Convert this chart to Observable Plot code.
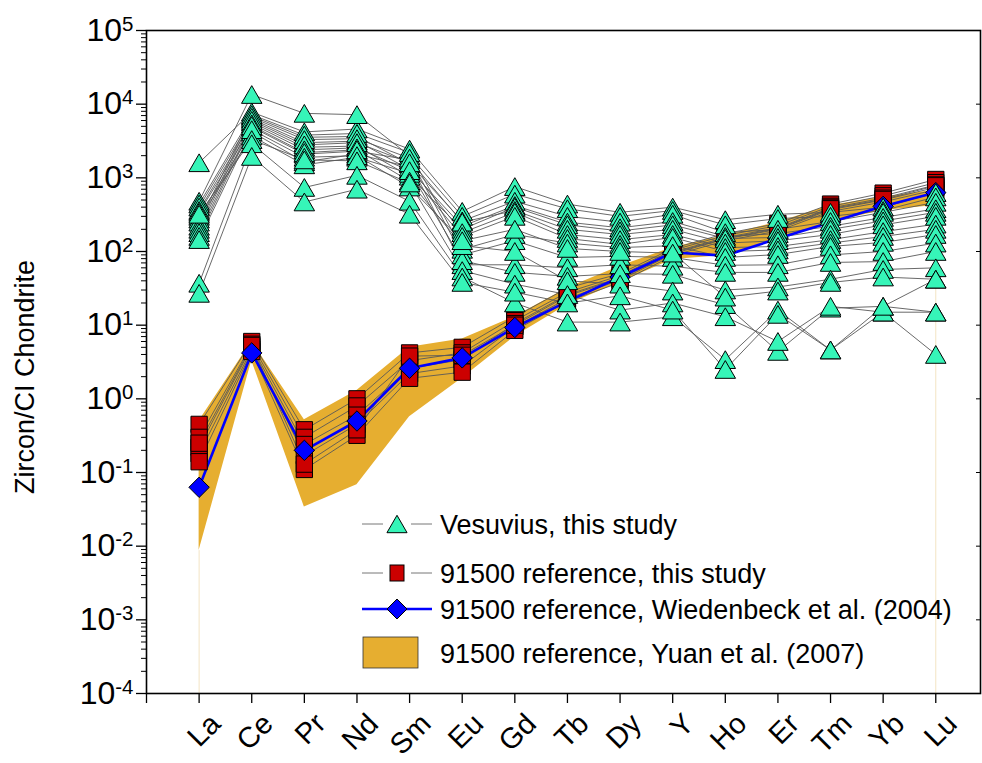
<!DOCTYPE html>
<html><head><meta charset="utf-8">
<script src="https://cdn.jsdelivr.net/npm/d3@7"></script>
<script src="https://cdn.jsdelivr.net/npm/@observablehq/plot@0.6"></script>
<style>
body{margin:0;background:#fff;}
#wrap{position:relative;width:982px;height:763px;overflow:hidden;}
#wrap svg{position:absolute;left:0;top:0;}
</style></head><body><div id="wrap"></div>
<script>
// ---------- DATA ----------
const elements = ["La","Ce","Pr","Nd","Sm","Eu","Gd","Tb","Dy","Y","Ho","Er","Tm","Yb","Lu"];

// Vesuvius zircons, this study (chondrite-normalised), one list per sample
const vesuviusSamples = [
  [1600, 7800, 4200, 4600, 2450, 350, 760, 440, 340, 400, 270, 320, 340, 400, 630],
  [480, 13500, 7500, 7200, 2000, 300, 600, 380, 300, 360, 230, 280, 300, 360, 550],
  [440, 6900, 3550, 3650, 1550, 260, 480, 300, 250, 320, 180, 200, 255, 340, 465],
  [400, 6300, 3000, 3150, 1300, 220, 420, 250, 210, 255, 160, 175, 220, 290, 380],
  [360, 5700, 2600, 2700, 1050, 200, 400, 230, 190, 230, 150, 155, 200, 260, 340],
  [340, 4900, 2100, 2300, 1750, 250, 360, 200, 170, 200, 130, 140, 170, 230, 300],
  [300, 4200, 1650, 2100, 1400, 180, 340, 170, 145, 170, 113, 117, 145, 186, 235],
  [275, 3700, 1500, 1900, 1150, 160, 300, 150, 125, 155, 100, 105, 130, 160, 200],
  [250, 7200, 3800, 4000, 2200, 107, 170, 130, 113, 120, 83, 91, 117, 133, 170],
  [220, 6600, 3300, 3400, 1850, 90, 140, 83, 86, 83, 65, 66, 90, 100, 130],
  [200, 6000, 2800, 3000, 1600, 66, 66, 60, 66, 63, 52, 52, 71, 73, 100],
  [180, 5400, 2400, 2550, 1250, 75, 52, 46, 50, 49, 30, 33, 42, 57, 60],
  [160, 5100, 2200, 2400, 900, 120, 100, 40, 36, 29, 19, 4.4, 17, 18, 15],
  [145, 4500, 1900, 2000, 750, 140, 200, 110, 100, 95, 24, 29, 38, 45, 42],
  [320, 3300, 1750, 1700, 850, 55, 36, 26, 16, 20, 13, 6.0, 18, 15, 4.0],
  [37, 2900, 740, 1080, 480, 45, 20, 11, 11, 13, 3.4, 16, 4.6, 15, 15],
  [27, 1950, 470, 700, 320, 38, 28, 20, 25, 16, 2.5, 14, 4.6, 18, 42]
];

// 91500 reference zircon, this study
const ref91500Samples = [
  [0.45, 6.0, 0.38, 1.00, 4.2, 5.0, 13.0, 32, 50, 110, 175, 240, 440, 620, 950],
  [0.30, 5.5, 0.30, 0.80, 3.3, 4.2, 11.5, 28, 47, 104, 165, 225, 410, 570, 860],
  [0.22, 5.1, 0.24, 0.60, 2.6, 3.4, 10.5, 26, 44, 98, 155, 210, 390, 530, 800],
  [0.18, 4.7, 0.17, 0.45, 2.2, 2.8, 9.5, 23, 41, 93, 148, 200, 370, 500, 740],
  [0.14, 4.4, 0.11, 0.32, 1.9, 2.3, 8.5, 21, 38, 88, 140, 190, 350, 470, 690],
  [0.25, 5.3, 0.13, 0.38, 3.8, 3.9, 10.0, 25, 43, 96, 150, 205, 380, 510, 780]
];

// 91500 reference, Wiedenbeck et al. (2004)
const wiedenbeck = [0.063, 4.2, 0.20, 0.50, 2.6, 3.6, 9.3, 21, 45, 97, 88, 150, 250, 410, 630];

// 91500 reference, Yuan et al. (2007): range
const yuanUpper = [0.5, 6.0, 0.52, 1.3, 5.0, 6.5, 13, 32, 63, 113, 165, 250, 420, 550, 680];
const yuanLower = [0.0087, 3.3, 0.034, 0.068, 0.57, 1.9, 7.0, 19, 38, 78, 88, 150, 250, 360, 420];

const yMajorTicks = [1e-4, 1e-3, 1e-2, 1e-1, 1e0, 1e1, 1e2, 1e3, 1e4, 1e5];
const legendLabels = [
  "Vesuvius, this study",
  "91500 reference, this study",
  "91500 reference, Wiedenbeck et al. (2004)",
  "91500 reference, Yuan et al. (2007)"
];
const yTitle = "Zircon/CI Chondrite";

// ---------- STYLE ----------
const C = {tri: "#36F5B8", sq: "#CC0000", dia: "#0000FF", band: "#E6AE30", line: "#585858"};
const FONT = "Liberation Sans, Arial, Helvetica, sans-serif";

// ---------- TIDY ----------
const tidy = (samples) => samples.flatMap((vals, s) => vals.map((v, j) => ({s, x: j + 1, el: elements[j], y: v})));
const vesData = tidy(vesuviusSamples);
const refData = tidy(ref91500Samples);
const wieData = wiedenbeck.map((v, j) => ({x: j + 1, y: v}));
const yuanData = elements.map((el, j) => ({x: j + 1, lo: yuanLower[j], hi: yuanUpper[j]}));
const yMinorTicks = [];
for (let e = -4; e < 5; e++) for (let k = 2; k <= 9; k++) yMinorTicks.push(k * Math.pow(10, e));
const edgeRules = [yuanData[0], yuanData[yuanData.length - 1]];

const chart = Plot.plot({
  width: 982, height: 763,
  marginLeft: 146, marginRight: 2, marginTop: 30, marginBottom: 70,
  style: {fontFamily: FONT, background: "transparent", color: "black", overflow: "visible"},
  x: {domain: [0, 15.85], axis: null},
  y: {type: "log", domain: [1e-4, 1e5], axis: null},
  marks: [
    Plot.areaY(yuanData, {x: "x", y1: "lo", y2: "hi", fill: C.band}),
    Plot.ruleX(edgeRules, {x: "x", y1: 1e-4, y2: "lo", stroke: "#f3e4c4", strokeWidth: 1}),
    Plot.line(vesData, {x: "x", y: "y", z: "s", stroke: C.line, strokeWidth: 0.9}),
    Plot.line(refData, {x: "x", y: "y", z: "s", stroke: C.line, strokeWidth: 0.9}),
    Plot.line(wieData, {x: "x", y: "y", stroke: C.dia, strokeWidth: 2.6}),
    Plot.dot(refData, {x: "x", y: "y", symbol: "square", r: 9.2, fill: C.sq, stroke: "black", strokeWidth: 1}),
    Plot.dot(wieData, {x: "x", y: "y", symbol: "diamond2", r: 9.2, fill: C.dia, stroke: "black", strokeWidth: 1}),
    Plot.dot(vesData, {x: "x", y: "y", symbol: "triangle", r: 7.6, dy: 2.9, fill: C.tri, stroke: "black", strokeWidth: 1}),
    // axes
    Plot.axisY(yMinorTicks, {anchor: "left", tickSize: 5, tickFormat: () => "", label: null, strokeWidth: 1}),
    Plot.axisY(yMajorTicks, {anchor: "left", tickSize: 10, tickPadding: 3, fontSize: 32,
      tickFormat: d => "10^" + Math.round(Math.log10(d)), label: null, strokeWidth: 1.3}),
    Plot.axisY(yMajorTicks, {anchor: "right", tickSize: -5, tickFormat: () => "", label: null}),
    Plot.axisX(d3.range(0, 16), {anchor: "bottom", tickSize: 10, tickFormat: () => "", label: null, strokeWidth: 1.3}),
    Plot.text(elements, {x: (d, i) => i + 1, frameAnchor: "bottom", text: d => d, rotate: -45,
      textAnchor: "end", dx: 23, dy: 32, fontSize: 29}),
    Plot.frame({stroke: "black", strokeWidth: 1.6})
  ]
});
document.getElementById("wrap").appendChild(chart);

// superscript exponents on y tick labels
chart.querySelectorAll("text").forEach(t => {
  const m = /^10\^(-?\d+)$/.exec(t.textContent);
  if (m) {
    t.textContent = "10";
    const sup = document.createElementNS("http://www.w3.org/2000/svg", "tspan");
    sup.setAttribute("dy", "-0.5em");
    sup.setAttribute("font-size", "0.64em");
    sup.textContent = m[1];
    t.appendChild(sup);
  }
});

// ---------- OVERLAY: axis title + legend (inside plot area) ----------
const leg = d3.select("#wrap").append("svg").attr("width", 982).attr("height", 763)
  .style("font-family", FONT).style("pointer-events", "none");
leg.append("text").attr("transform", "translate(34,377) rotate(-90)").attr("text-anchor", "middle")
  .attr("font-size", 27).attr("fill", "black").text(yTitle);

const rows = [
  {y: 524, kind: "tri"}, {y: 573, kind: "sq"}, {y: 609, kind: "dia"}, {y: 653, kind: "band"}
];
const lx0 = 362, lx1 = 432, lmx = 397, ltx = 440;
rows.forEach((r, i) => {
  const g = leg.append("g");
  if (r.kind === "band") {
    g.append("rect").attr("x", 363).attr("y", r.y - 16).attr("width", 55).attr("height", 31)
      .attr("fill", C.band).attr("stroke", "#333").attr("stroke-width", 0.8);
  } else if (r.kind === "dia") {
    g.append("line").attr("x1", lx0).attr("x2", lx1).attr("y1", r.y).attr("y2", r.y)
      .attr("stroke", C.dia).attr("stroke-width", 2.6);
    g.append("path").attr("d", d3.symbol(d3.symbolDiamond2, 255)())
      .attr("transform", `translate(${lmx},${r.y})`).attr("fill", C.dia).attr("stroke", "black");
  } else {
    g.append("line").attr("x1", lx0).attr("x2", lmx - 14).attr("y1", r.y).attr("y2", r.y).attr("stroke", "#777");
    g.append("line").attr("x1", lmx + 14).attr("x2", lx1).attr("y1", r.y).attr("y2", r.y).attr("stroke", "#777");
    if (r.kind === "tri") {
      g.append("path").attr("d", d3.symbol(d3.symbolTriangle, 175)())
        .attr("transform", `translate(${lmx},${r.y + 2.9})`).attr("fill", C.tri).attr("stroke", "black");
    } else {
      g.append("rect").attr("x", lmx - 7).attr("y", r.y - 8).attr("width", 14).attr("height", 16)
        .attr("fill", C.sq).attr("stroke", "black");
    }
  }
  g.append("text").attr("x", ltx).attr("y", r.y).attr("dy", "0.36em")
    .attr("font-size", 27).attr("fill", "black").text(legendLabels[i]);
});
</script></body></html>
